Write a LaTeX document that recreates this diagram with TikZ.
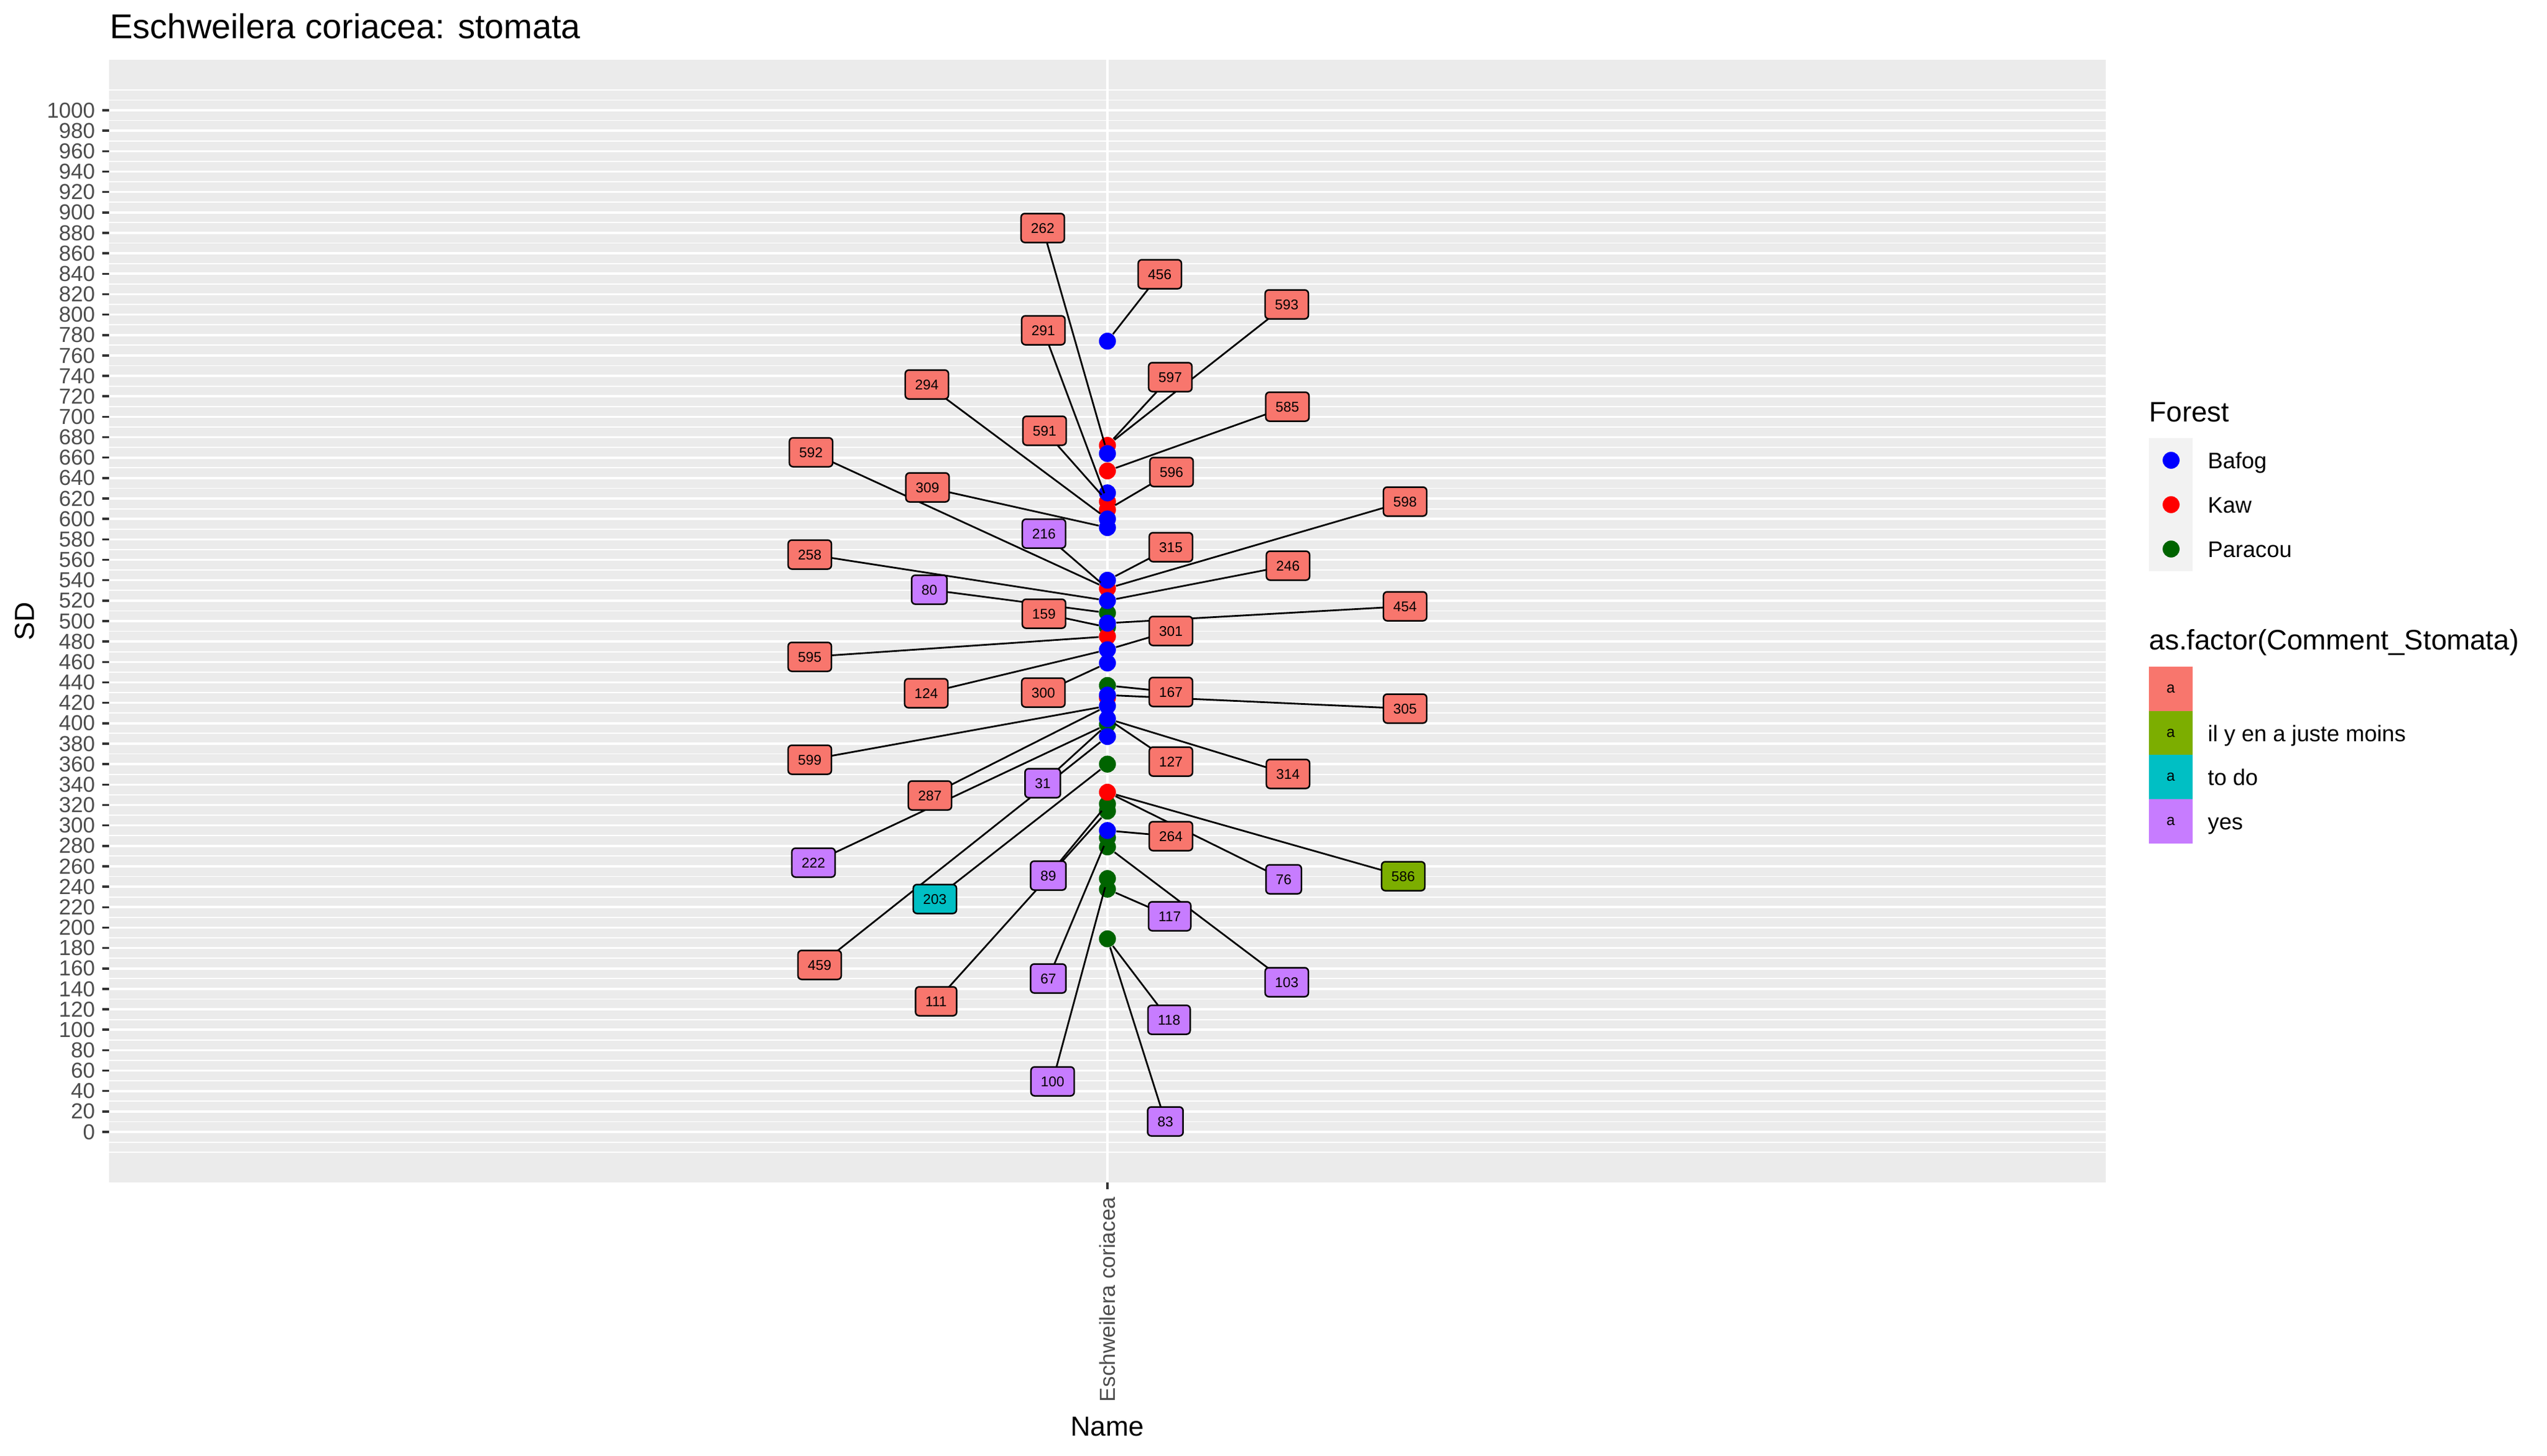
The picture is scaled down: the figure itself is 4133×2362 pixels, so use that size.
\documentclass[tikz,border=0pt]{standalone}
\usepackage{fontspec}
\setmainfont{Liberation Sans}
\usetikzlibrary{arrows.meta, calc}

\definecolor{panelgray}{HTML}{EBEBEB}
\definecolor{keygray}{HTML}{F2F2F2}
\definecolor{axisgray}{HTML}{4D4D4D}
\definecolor{tickgray}{HTML}{333333}
\definecolor{bafog}{RGB}{0,0,255}
\definecolor{kaw}{RGB}{255,0,0}
\definecolor{paracou}{HTML}{006400}
\definecolor{sal}{HTML}{F8766D}
\definecolor{grn}{HTML}{7CAE00}
\definecolor{cya}{HTML}{00BFC4}
\definecolor{pur}{HTML}{C77CFF}

\begin{document}
\begin{tikzpicture}[>=Stealth, x=0.01cm, y=-0.01cm,
    point/.style={circle, inner sep=0pt, minimum size=0.275cm},
    numlabel/.style={draw=black, line width=0.025cm, rounded corners=0.06cm,
      font=\fontsize{6.5}{7}\selectfont, inner xsep=0.16cm, inner ysep=0pt,
      minimum height=0.47cm, text height=0.17cm, text depth=0cm},
    segment/.style={black, line width=0.028cm},
    majorgrid/.style={white, line width=0.036cm},
    minorgrid/.style={white, line width=0.018cm},
    ticklabel/.style={text=axisgray, font=\fontsize{10}{12}\selectfont},
    axistitle/.style={font=\fontsize{12.7}{15}\selectfont},
    legtitle/.style={font=\fontsize{13}{15}\selectfont, anchor=base west},
    legtext/.style={font=\fontsize{10.4}{12}\selectfont, anchor=base west},
    keybox/.style={minimum width=0.71cm, minimum height=0.7175cm, inner sep=0pt,
      font=\fontsize{7}{8}\selectfont}]
	\def\xc{1797}   % x of the single category
	\def\xl{177}    % panel left
	\def\xr{3417}   % panel right
	
	% Page
	\fill[white] (0,0) rectangle (4133,2362);
	\useasboundingbox (0,0) rectangle (4133,2362);
	
	% Panel
	\fill[panelgray] (\xl,97) rectangle (\xr,1919);
	\draw[majorgrid] (\xc,97) -- (\xc,1919);
	
	\begin{scope}[shift={(0,1837)}, y=0.01657cm]
		% Grid and y axis
		\foreach \v in {-20,-10,...,1020}
			\draw[minorgrid] (\xl,\v) -- (\xr,\v);
		\foreach \v in {0,20,...,1000} {
			\draw[majorgrid] (\xl,\v) -- (\xr,\v);
			\draw[tickgray, line width=0.035cm] (166,\v) -- (\xl,\v);
			\node[ticklabel, anchor=east, inner sep=0pt] at (155,\v) {\v};
		}
		
		% Points: Paracou
		\foreach \n/\v in {508/508, 494/494, 437/437, 399/399, 360/360, 321/321,
			314/314, 288/288, 279/279, 248/248, 238/237.6, 189/189}
			\node[point, fill=paracou] (p\n) at (\xc,\v) {};
		% Points: Kaw
		\foreach \n/\v in {672/672, 647/647, 617/617, 609/609, 532/532, 485/485,
			425/425, 332/332.5}
			\node[point, fill=kaw] (k\n) at (\xc,\v) {};
		% Points: Bafog
		\foreach \n/\v in {774/774, 664/664, 625/625.5, 600/600, 591/591.5, 540/540,
			520/520, 498/498, 472/472, 459/459, 428/427.6, 417/417, 404/404.5,
			387/387, 295/295}
			\node[point, fill=bafog] (b\n) at (\xc,\v) {};
	\end{scope}
	
	% Labels: name/x/y/fill/point
	\def\labellist{262/1692/370/sal/b664, 456/1882/445/sal/b774, 593/2088/494/sal/k672,
		291/1693/536/sal/k617, 294/1504/624/sal/b600, 597/1899/612/sal/k672,
		585/2089/660/sal/k647, 591/1695/699/sal/k617, 592/1316/734/sal/k532,
		596/1901/766/sal/k609, 309/1505/791/sal/b591, 598/2280/814/sal/k532,
		216/1694/866/pur/k532, 315/1900/888/sal/b540, 258/1314/900/sal/b520,
		246/2090/918/sal/b520, 80/1508/957/pur/p508, 454/2280/984/sal/b498,
		159/1694/996/sal/p494, 301/1900/1024/sal/b472, 595/1314/1066/sal/k485,
		124/1503/1125/sal/b472, 300/1693/1124/sal/b459, 167/1900/1123/sal/p437,
		305/2280/1150/sal/b428, 599/1314/1233/sal/b417, 127/1900/1236/sal/b404,
		314/2090/1256/sal/b404, 31/1692/1271/pur/p399, 287/1509/1291/sal/b417,
		264/1900/1357/sal/b295, 222/1320/1400/pur/p399, 89/1701/1421/pur/p321,
		76/2083/1427/pur/k332, 586/2277/1422/grn/k332, 203/1517/1459/cya/p360,
		117/1898/1487/pur/p238, 459/1330/1566/sal/b387, 67/1701/1588/pur/p288,
		103/2088/1594/pur/p279, 111/1519/1625/sal/p314, 118/1897/1655/pur/p189,
		100/1708/1755/pur/p248, 83/1891/1820/pur/p189}
	
	% Connectors, then the labels over them
	\foreach \n/\px/\py/\col/\pt in \labellist {
		\coordinate (c\n) at (\px,\py);
		\draw[segment] (c\n) -- (\pt);
	}
	\foreach \n/\px/\py/\col/\pt in \labellist
		\node[numlabel, fill=\col] (l\n) at (c\n) {\n};
	
	% x axis
	\draw[tickgray, line width=0.035cm] (\xc,1919) -- (\xc,1930);
	\node[ticklabel, rotate=90, anchor=east, inner sep=0pt] (xname) at (\xc,1942) {Eschweilera coriacea};
	\node[axistitle, anchor=base] (xtitle) at (\xc,2330) {Name};
	\node[axistitle, rotate=90, anchor=base] (ytitle) at (55,1008) {SD};
	
	% Title
	\node[anchor=base west, inner sep=0pt, font=\fontsize{15.9}{18}\selectfont] (title) at (178,62) {Eschweilera coriacea: stomata};
	
	% Legend: Forest
	\node[legtitle, inner sep=0pt] (forest) at (3487,684) {Forest};
	\fill[keygray] (3487,711) rectangle (3558,927);
	\foreach \f/\c/\y in {Bafog/bafog/747, Kaw/kaw/819, Paracou/paracou/891} {
		\node[point, fill=\c] (key\f) at (3523,\y) {};
		\node[legtext, inner sep=0pt] at (3582,\y+13.5) {\f};
	}
	
	% Legend: comments
	\node[legtitle, inner sep=0pt] (comment) at (3487,1054) {as.factor(Comment\_Stomata)};
	\foreach \c/\y/\t in {sal/1118/{}, grn/1190/{il y en a juste moins}, cya/1261/{to do}, pur/1333/{yes}} {
		\node[keybox, fill=\c] (key\c) at (3522.5,\y) {a};
		\node[legtext, inner sep=0pt] at (3582,\y+13.5) {\t};
	}

\end{tikzpicture}
\end{document}
